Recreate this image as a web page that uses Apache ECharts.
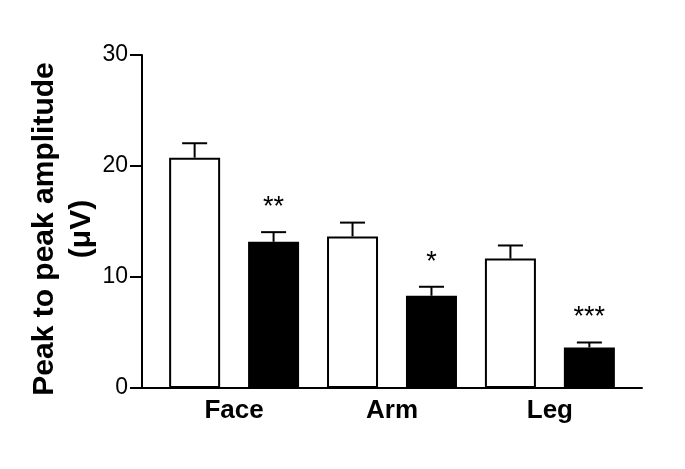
<!DOCTYPE html>
<html>
<head>
<meta charset="utf-8">
<script src="https://cdn.jsdelivr.net/npm/echarts@6/dist/echarts.min.js"></script>
<style>
  html, body { margin: 0; padding: 0; background: #fff; }
  #chart { width: 685px; height: 469px; }
</style>
</head>
<body>
<div id="chart"></div>
<script>
// values
const categories = ['Face', 'Arm', 'Leg'];
const controlMeans = [20.75, 13.65, 11.66];
const controlSem = [1.3, 1.25, 1.18];
const treatedMeans = [13.17, 8.31, 3.65];
const treatedSem = [0.87, 0.81, 0.45];
const treatedStars = ['**', '*', '***'];
const yTicks = [0, 10, 20, 30];

const FONT = '"Liberation Sans", Arial, sans-serif';

// each bar gets its own slot on a value axis: control at 1,3,5 and treated at 2,4,6
const barData = [];
const errData = [];
categories.forEach(function (c, i) {
  barData.push({ value: [2 * i + 1, controlMeans[i]], itemStyle: { color: '#ffffff' } });
  barData.push({ value: [2 * i + 2, treatedMeans[i]], itemStyle: { color: '#000000' } });
  errData.push([2 * i + 1, controlMeans[i], controlSem[i], '']);
  errData.push([2 * i + 2, treatedMeans[i], treatedSem[i], treatedStars[i]]);
});
const labelPos = categories.map(function (c, i) { return 2 * i + 1.5; });

const chart = echarts.init(document.getElementById('chart'));
chart.setOption({
  animation: false,
  grid: { left: 142, right: 43, top: 55, bottom: 81 },
  xAxis: {
    type: 'value',
    min: 1 / 3,
    max: 20 / 3,
    axisLine: { show: true, lineStyle: { color: '#000', width: 2 } },
    axisTick: { show: false },
    splitLine: { show: false },
    axisLabel: {
      customValues: labelPos,
      formatter: function (v) {
        const idx = labelPos.findIndex(function (p) { return Math.abs(p - v) < 0.01; });
        return idx >= 0 ? categories[idx] : '';
      },
      color: '#000',
      fontFamily: FONT,
      fontWeight: 'bold',
      fontSize: 26,
      margin: 10
    }
  },
  yAxis: {
    type: 'value',
    min: 0,
    max: 30,
    interval: 10,
    name: 'Peak to peak amplitude\n(\u03bcV)',
    nameLocation: 'middle',
    nameGap: 42,
    nameMoveOverlap: false,
    nameTextStyle: {
      color: '#000',
      fontFamily: FONT,
      fontWeight: 'bold',
      fontSize: 30,
      lineHeight: 37,
      padding: [0, 15, 0, 0]
    },
    axisLine: { show: true, lineStyle: { color: '#000', width: 2 } },
    axisTick: { show: true, length: 12, lineStyle: { color: '#000', width: 2 } },
    splitLine: { show: false },
    axisLabel: {
      customValues: yTicks,
      color: '#000',
      fontFamily: FONT,
      fontSize: 23,
      margin: 14
    }
  },
  series: [
    {
      type: 'bar',
      barWidth: 51,
      itemStyle: { borderColor: '#000', borderWidth: 2 },
      data: barData,
      z: 2
    },
    {
      type: 'custom',
      z: 3,
      renderItem: function (params, api) {
        const x = api.value(0);
        const mean = api.value(1);
        const sem = api.value(2);
        const stars = api.value(3);
        const base = api.coord([x, mean]);
        const top = api.coord([x, mean + sem]);
        const half = 12.5;
        const children = [
          {
            type: 'line',
            shape: { x1: base[0], y1: base[1], x2: top[0], y2: top[1] },
            style: { stroke: '#000', lineWidth: 2 }
          },
          {
            type: 'line',
            shape: { x1: top[0] - half, y1: top[1], x2: top[0] + half, y2: top[1] },
            style: { stroke: '#000', lineWidth: 2 }
          }
        ];
        if (stars) {
          children.push({
            type: 'text',
            style: {
              text: stars,
              x: top[0],
              y: top[1] - 11,
              align: 'center',
              verticalAlign: 'bottom',
              fill: '#000',
              font: '27px ' + FONT
            }
          });
        }
        return { type: 'group', children: children };
      },
      data: errData
    }
  ]
});
</script>
</body>
</html>
